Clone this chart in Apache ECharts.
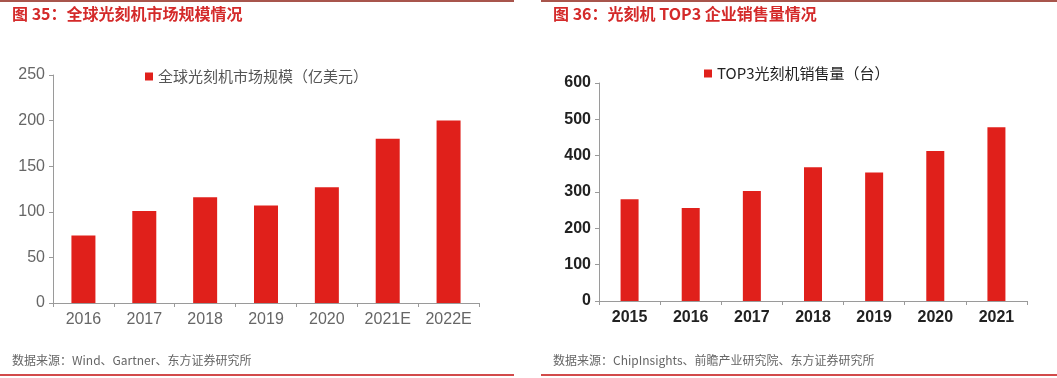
<!DOCTYPE html>
<html>
<head>
<meta charset="utf-8">
<script src="https://cdn.jsdelivr.net/npm/echarts@6/dist/echarts.min.js"></script>
<style>
  html, body { margin: 0; padding: 0; background: #fff; }
  #chart { width: 1057px; height: 378px; }
</style>
</head>
<body>
<div id="chart"></div>
<script>
// 图35 全球光刻机市场规模（亿美元）
const marketYears = ['2016', '2017', '2018', '2019', '2020', '2021E', '2022E'];
const marketValues = [74, 101, 116, 107, 127, 180, 200];
// 图36 TOP3光刻机销售量（台）
const salesYears = ['2015', '2016', '2017', '2018', '2019', '2020', '2021'];
const salesValues = [280, 256, 303, 368, 354, 413, 478];

const barColor = '#e0201b';
const fontCn = '"Noto Sans CJK SC", "Noto Sans", sans-serif';
const fontNum = '"Liberation Sans", Arial, sans-serif';

const chart = echarts.init(document.getElementById('chart'));

function axisX(gridIndex, data, color, weight) {
  return {
    type: 'category',
    gridIndex: gridIndex,
    data: data,
    axisLine: { lineStyle: { color: '#9a9a9a', width: 1 } },
    axisTick: { show: true, length: 4, lineStyle: { color: '#9a9a9a' } },
    axisLabel: { color: color, fontSize: 16, fontWeight: weight, fontFamily: fontNum, margin: 9 }
  };
}

function axisY(gridIndex, max, interval, color, weight) {
  return {
    type: 'value',
    gridIndex: gridIndex,
    min: 0,
    max: max,
    interval: interval,
    splitLine: { show: false },
    axisLine: { show: true, lineStyle: { color: '#9a9a9a', width: 1 } },
    axisTick: { show: true, length: 4, lineStyle: { color: '#9a9a9a' } },
    axisLabel: { color: color, fontSize: 16, fontWeight: weight, fontFamily: fontNum, margin: 8 }
  };
}

const option = {
  animation: false,
  backgroundColor: '#fff',
  legend: [
    {
      data: ['全球光刻机市场规模（亿美元）'],
      left: 140, top: 64,
      icon: 'rect',
      itemWidth: 8, itemHeight: 8, itemGap: 3,
      textStyle: { color: '#555', fontSize: 15, fontFamily: fontCn }
    },
    {
      data: ['TOP3光刻机销售量（台）'],
      left: 699, top: 61,
      icon: 'rect',
      itemWidth: 8, itemHeight: 8, itemGap: 3,
      textStyle: { color: '#222', fontSize: 15, fontFamily: fontCn }
    }
  ],
  grid: [
    { left: 53, top: 75, width: 426, height: 228 },
    { left: 599, top: 83, width: 428, height: 218 }
  ],
  xAxis: [
    axisX(0, marketYears, '#666', 'normal'),
    axisX(1, salesYears, '#222', 'bold')
  ],
  yAxis: [
    axisY(0, 250, 50, '#666', 'normal'),
    axisY(1, 600, 100, '#222', 'bold')
  ],
  series: [
    {
      name: '全球光刻机市场规模（亿美元）',
      type: 'bar',
      xAxisIndex: 0, yAxisIndex: 0,
      data: marketValues,
      barWidth: 24,
      itemStyle: { color: barColor }
    },
    {
      name: 'TOP3光刻机销售量（台）',
      type: 'bar',
      xAxisIndex: 1, yAxisIndex: 1,
      data: salesValues,
      barWidth: 18,
      itemStyle: { color: barColor }
    }
  ],
  graphic: [
    // 顶部分隔线
    { type: 'rect', shape: { x: 0, y: 0, width: 514, height: 2 }, style: { fill: '#a8554c' } },
    { type: 'rect', shape: { x: 541, y: 0, width: 516, height: 2 }, style: { fill: '#a8554c' } },
    // 标题
    { type: 'text', left: 12, top: 6, style: { text: '图 35：全球光刻机市场规模情况', fill: '#d42a2a', font: 'bold 16px ' + fontCn } },
    { type: 'text', left: 553, top: 6, style: { text: '图 36：光刻机 TOP3 企业销售量情况', fill: '#d42a2a', font: 'bold 16px ' + fontCn } },
    // 数据来源
    { type: 'text', left: 12, top: 354, style: { text: '数据来源：Wind、Gartner、东方证券研究所', fill: '#666', font: '12px ' + fontCn } },
    { type: 'text', left: 553, top: 354, style: { text: '数据来源：ChipInsights、前瞻产业研究院、东方证券研究所', fill: '#666', font: '12px ' + fontCn } },
    // 底部分隔线
    { type: 'rect', shape: { x: 0, y: 374, width: 514, height: 2 }, style: { fill: '#d24a4a' } },
    { type: 'rect', shape: { x: 541, y: 374, width: 516, height: 2 }, style: { fill: '#d24a4a' } }
  ]
};

chart.setOption(option);
</script>
</body>
</html>
